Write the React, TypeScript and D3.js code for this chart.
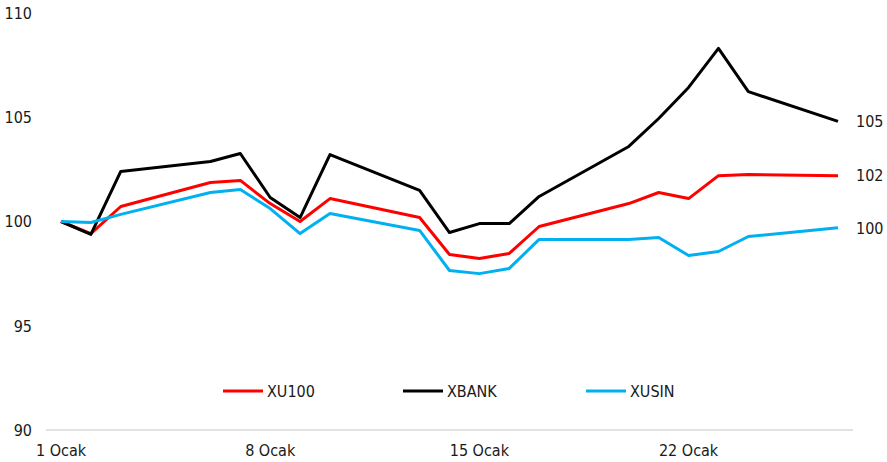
import { useEffect, useRef } from 'react';
import * as d3 from 'd3';

const dates = ['2025-01-01', '2025-01-02', '2025-01-03', '2025-01-06', '2025-01-07', '2025-01-08', '2025-01-09', '2025-01-10', '2025-01-13', '2025-01-14', '2025-01-15', '2025-01-16', '2025-01-17', '2025-01-20', '2025-01-21', '2025-01-22', '2025-01-23', '2025-01-24', '2025-01-27'];
const xu100 = [100, 99.42, 100.72, 101.87, 101.97, 100.86, 100.0, 101.1, 100.19, 98.42, 98.23, 98.47, 99.76, 100.86, 101.39, 101.1, 102.2, 102.25, 102.2];
const xbank = [100, 99.38, 102.4, 102.88, 103.26, 101.15, 100.19, 103.21, 101.49, 99.47, 99.9, 99.9, 101.2, 103.6, 104.94, 106.43, 108.3, 106.23, 104.8];
const xusin = [100, 99.95, 100.34, 101.39, 101.53, 100.62, 99.42, 100.38, 99.57, 97.65, 97.5, 97.75, 99.14, 99.14, 99.23, 98.37, 98.56, 99.28, 99.7];
const yTicks = [90, 95, 100, 105, 110];
const xTickDates = ['2025-01-01', '2025-01-08', '2025-01-15', '2025-01-22'];
const xTickLabels = ['1 Ocak', '8 Ocak', '15 Ocak', '22 Ocak'];
const seriesNames = ['XU100', 'XBANK', 'XUSIN'];

const FONT = '"DejaVu Sans Condensed", "DejaVu Sans", sans-serif';

function App() {
  const svgRef = useRef<SVGSVGElement>(null);

  useEffect(() => {
    const w = 887;
    const h = 462;
    const svg = d3.select(svgRef.current).attr('width', w).attr('height', h);
    svg.selectAll('*').remove();

    const parse = d3.utcParse('%Y-%m-%d');
    const x = d3.scaleUtc()
      .domain([parse(dates[0])!, parse(dates[dates.length - 1])!])
      .range([61, 838]);
    const y = d3.scaleLinear().domain([90, 110]).range([430, 13]);

    const series = [
      { name: seriesNames[0], values: xu100, color: '#ff0000' },
      { name: seriesNames[1], values: xbank, color: '#000000' },
      { name: seriesNames[2], values: xusin, color: '#00b0f0' },
    ];

    // baseline
    svg.append('line')
      .attr('x1', 46).attr('x2', 853)
      .attr('y1', y(90)).attr('y2', y(90))
      .attr('stroke', '#d9d9d9').attr('stroke-width', 1.3);

    // y labels
    svg.append('g').selectAll('text').data(yTicks).join('text')
      .attr('x', 32)
      .attr('y', d => y(d))
      .attr('dy', '0.36em')
      .attr('text-anchor', 'end')
      .attr('font-family', FONT)
      .attr('font-size', 16)
      .attr('fill', '#1a1a1a')
      .text(d => d);

    // x labels
    svg.append('g').selectAll('text').data(xTickDates).join('text')
      .attr('x', d => x(parse(d)!))
      .attr('y', 456)
      .attr('text-anchor', 'middle')
      .attr('font-family', FONT)
      .attr('font-size', 16)
      .attr('fill', '#1a1a1a')
      .text((d, i) => xTickLabels[i]);

    const line = d3.line<number>()
      .x((d, i) => x(parse(dates[i])!))
      .y(d => y(d));

    // draw blue, red, black in the order excel stacks them (last on top)
    svg.append('g').selectAll('path').data(series).join('path')
      .attr('d', d => line(d.values))
      .attr('fill', 'none')
      .attr('stroke', d => d.color)
      .attr('stroke-width', 3)
      .attr('stroke-linejoin', 'round');

    // end value labels
    svg.append('g').selectAll('text').data(series).join('text')
      .attr('x', 856)
      .attr('y', d => y(d.values[d.values.length - 1]))
      .attr('dy', '0.36em')
      .attr('font-family', FONT)
      .attr('font-size', 16)
      .attr('fill', '#1a1a1a')
      .text(d => d3.format('.0f')(d.values[d.values.length - 1]));

    // legend
    const legendX = [223, 403, 586];
    const lg = svg.append('g').selectAll('g').data(series).join('g')
      .attr('transform', (d, i) => `translate(${legendX[i]}, 391)`);
    lg.append('line')
      .attr('x1', 0).attr('x2', 40)
      .attr('stroke', d => d.color)
      .attr('stroke-width', 3);
    lg.append('text')
      .attr('x', 44)
      .attr('dy', '0.36em')
      .attr('font-family', FONT)
      .attr('font-size', 16)
      .attr('fill', '#1a1a1a')
      .text(d => d.name);
  }, []);

  return (
    <div style={{ position: 'absolute', left: 0, top: 0 }}>
      <svg ref={svgRef} style={{ display: 'block' }}></svg>
    </div>
  );
}

export default App;
